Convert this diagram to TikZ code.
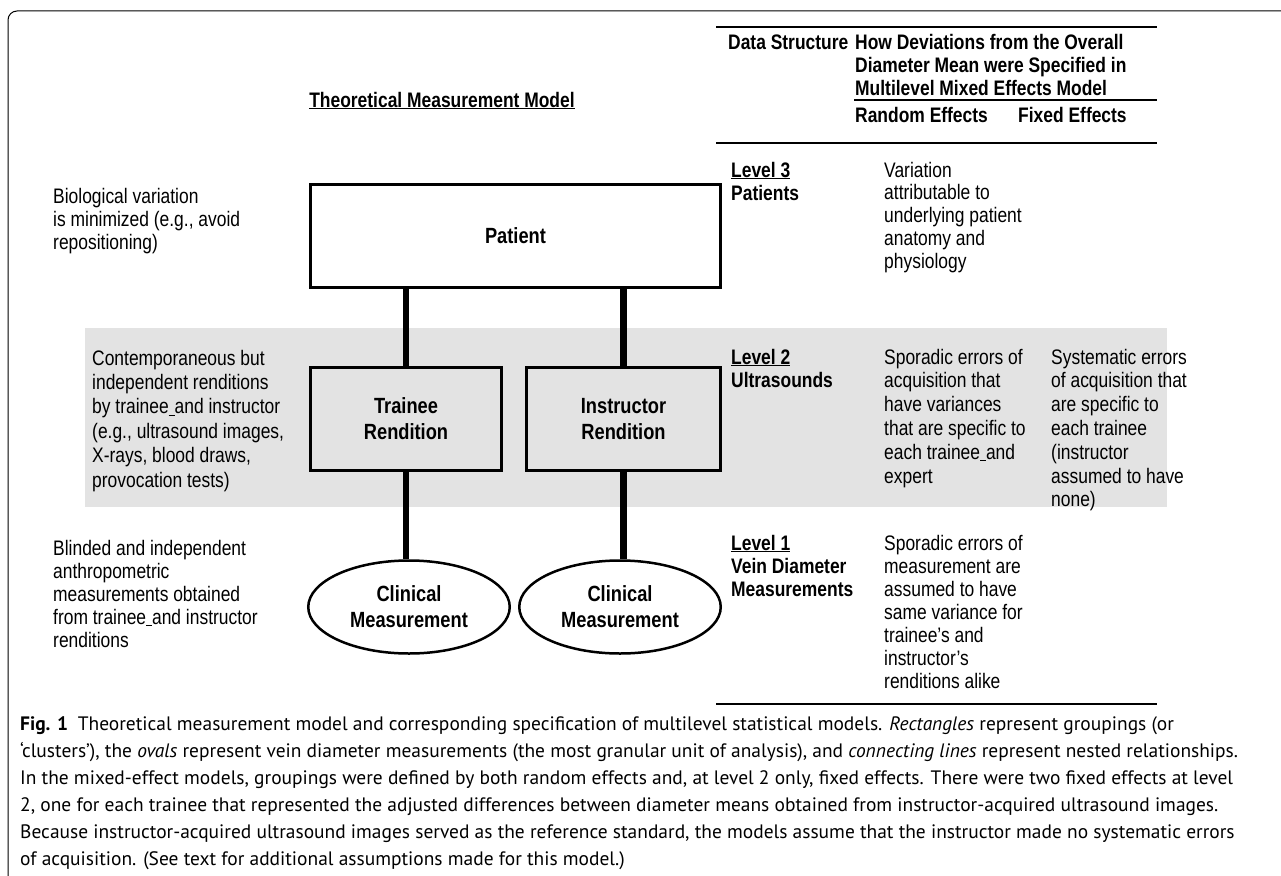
\documentclass[tikz,border=0pt]{standalone}
\usepackage{fontspec}
\setmainfont{Liberation Sans}[FakeStretch=0.83]
\newfontfamily\capfont{PT Sans}
\usetikzlibrary{shapes.geometric}
\definecolor{band}{HTML}{E3E3E3}
\newcommand\dfont[1]{\fontsize{21}{#1}\selectfont}
\newcommand\cfont{\capfont\fontsize{19.45}{27}\selectfont}
\newcommand\us{\underline{\hspace{0.28em}}}
\tikzset{
  x=1pt, y=-1pt,
  txt/.style={font=\dfont{23}, align=left, anchor=base west, inner sep=0pt},
  btxt/.style={txt, font=\dfont{23}\bfseries},
  captxt/.style={font=\cfont, anchor=base west, inner sep=0pt},
  tabrule/.style={line width=1.6pt},
  grp/.style={draw, line width=3pt, rectangle, inner sep=0pt, font=\fontsize{22}{26}\selectfont\bfseries, align=center},
  oval/.style={draw, line width=2.5pt, ellipse, inner sep=0pt, font=\fontsize{22}{26}\selectfont\bfseries, align=center, fill=white},
  link/.style={line width=6.5pt},
}
\begin{document}
\begin{tikzpicture}
\useasboundingbox (0,0) rectangle (1281,875);
% frame
\draw[line width=1pt, rounded corners=9pt] (8,876) -- (8,11) -- (1282,11);
% grey band
\fill[band] (85,328) rectangle (1167,507);
% table rules
\coordinate (r1a) at (716,27);  \coordinate (r1b) at (1157,27);
\coordinate (r2a) at (854,100); \coordinate (r2b) at (1157,100);
\coordinate (r3a) at (716,143); \coordinate (r3b) at (1157,143);
\coordinate (r4a) at (716,704); \coordinate (r4b) at (1157,704);
\draw[tabrule] (r1a) -- (r1b);
\draw[tabrule, line width=1.2pt] (r2a) -- (r2b);
\draw[tabrule] (r3a) -- (r3b);
\draw[tabrule] (r4a) -- (r4b);
% header
\node[btxt] (hds) at (728,50) {Data Structure};
\node[btxt, font=\dfont{22.5}\bfseries] (hdev) at (855,95) {How Deviations from the Overall\\Diameter Mean were Specified in\\Multilevel Mixed Effects Model};
\node[btxt] (hre) at (855,122) {Random Effects};
\node[btxt] (hfe) at (1018,122) {Fixed Effects};
% title
\node[btxt, anchor=base] (title) at (442,107) {\underline{Theoretical Measurement Model}};
% level rows
\node[btxt] (l3) at (731,200) {\underline{Level 3}\\Patients};
\node[txt, font=\dfont{22.8}] (l3r) at (884,268.2) {Variation\\attributable to\\underlying patient\\anatomy and\\physiology};
\node[btxt, font=\dfont{23.8}\bfseries] (l2) at (731,387.8) {\underline{Level 2}\\Ultrasounds};
\node[txt, font=\dfont{23.8}] (l2r) at (884,483) {Sporadic errors of\\acquisition that\\have variances\\that are specific to\\each trainee\us and\\expert};
\node[txt, font=\dfont{23.8}] (l2f) at (1051,506.8) {Systematic errors\\of acquisition that\\are specific to\\each trainee\\(instructor\\assumed to have\\none)};
\node[btxt] (l1) at (731,596) {\underline{Level 1}\\Vein Diameter\\Measurements};
\node[txt] (l1r) at (884,688) {Sporadic errors of\\measurement are\\assumed to have\\same variance for\\trainee’s and\\instructor’s\\renditions alike};
% left descriptions
\node[txt] (d3) at (53,249) {Biological variation\\is minimized (e.g., avoid\\repositioning)};
\node[txt, font=\dfont{24.4}] (d2) at (92,487) {Contemporaneous but\\independent renditions\\by trainee\us and instructor\\(e.g., ultrasound images,\\X-rays, blood draws,\\provocation tests)};
\node[txt] (d1) at (53,647) {Blinded and independent\\anthropometric\\measurements obtained\\from trainee\us and instructor\\renditions};
% model nodes
\node[grp, minimum width=410, minimum height=103] (patient) at (515.5,236) {Patient};
\node[grp, minimum width=191, minimum height=103] (trainee) at (406,419) {Trainee\\Rendition};
\node[grp, minimum width=194, minimum height=103] (instr) at (623.5,419) {Instructor\\Rendition};
\node[oval, minimum width=201.5, minimum height=93] (cm1) at (409,607) {Clinical\\Measurement};
\node[oval, minimum width=201.5, minimum height=93] (cm2) at (620,607) {Clinical\\Measurement};
\draw[link] (patient.south -| trainee.north) -- (trainee.north);
\draw[link] (patient.south -| instr.north) -- (instr.north);
\draw[link] (trainee.south) -- (trainee.south |- cm1.north);
\draw[link] (instr.south) -- (instr.south |- cm2.north);
% caption
\node[captxt] (c1) at (20,730) {\textbf{Fig. 1}\enspace Theoretical measurement model and corresponding specification of multilevel statistical models. \textit{Rectangles} represent groupings (or};
\node[captxt] (c2) at (20,757) {‘clusters’), the \textit{ovals} represent vein diameter measurements (the most granular unit of analysis), and \textit{connecting lines} represent nested relationships.};
\node[captxt] (c3) at (20,784) {In the mixed-effect models, groupings were defined by both random effects and, at level 2 only, fixed effects. There were two fixed effects at level};
\node[captxt] (c4) at (20,811) {2, one for each trainee that represented the adjusted differences between diameter means obtained from instructor-acquired ultrasound images.};
\node[captxt] (c5) at (20,838) {Because instructor-acquired ultrasound images served as the reference standard, the models assume that the instructor made no systematic errors};
\node[captxt] (c6) at (20,865) {of acquisition. (See text for additional assumptions made for this model.)};
\end{tikzpicture}
\end{document}
